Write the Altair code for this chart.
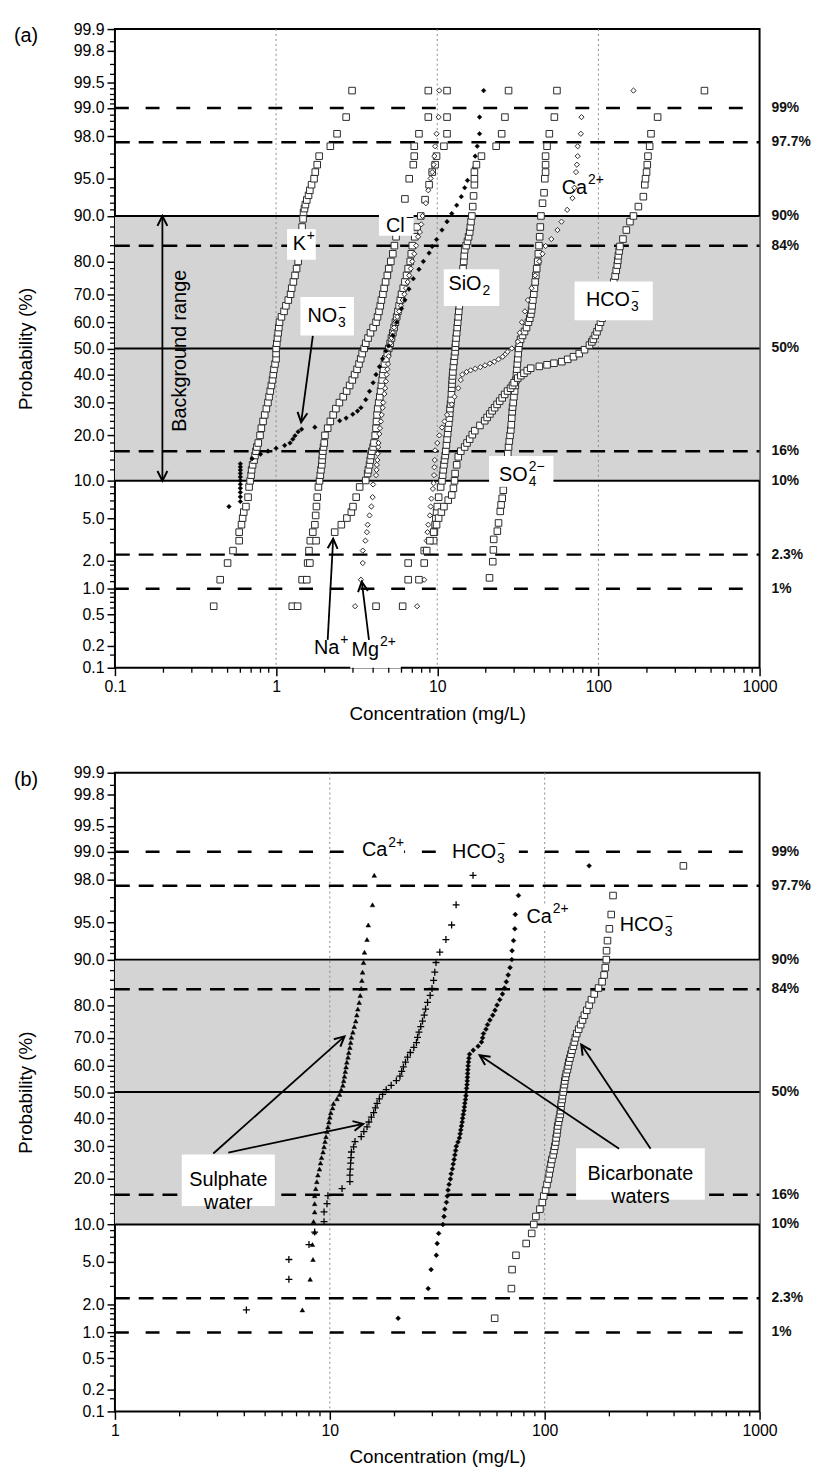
import math
import pandas as pd
import altair as alt
from statistics import NormalDist

# ------------------------------------------------------------------
# Panel (a): cumulative probability (%) and concentration (mg/L)
# ------------------------------------------------------------------
K_P = [0.63, 1.26, 1.89, 2.52, 3.14, 3.77, 4.40, 5.03, 5.66, 6.29, 7.5, 9.0, 10.0, 11.0, 12, 13, 14, 15, 16, 17,
       18, 20, 22, 24, 26, 28, 30, 32, 34, 36, 38, 40, 42, 44, 46, 48, 50, 52, 54, 56,
       58, 60, 62, 64, 66, 68, 70, 72, 74, 76, 78, 80, 82, 84, 86, 88, 89.5, 90.6, 91.2, 91.8,
       92.45, 93.08, 93.7, 94.34, 94.97, 95.6, 96.23, 96.86, 97.48, 98.11, 98.74, 99.37]
K_C = [0.41, 0.45, 0.50, 0.54, 0.59, 0.59, 0.61, 0.62, 0.63, 0.65, 0.67, 0.68, 0.69, 0.70, 0.705, 0.715, 0.73, 0.74, 0.75, 0.76,
       0.775, 0.795, 0.81, 0.83, 0.85, 0.87, 0.89, 0.905, 0.92, 0.935, 0.95, 0.96, 0.97, 0.985, 1.0, 1.0, 1.0, 1.01, 1.02, 1.03,
       1.04, 1.05, 1.08, 1.12, 1.15, 1.19, 1.23, 1.25, 1.28, 1.31, 1.34, 1.37, 1.39, 1.41, 1.43, 1.45, 1.47, 1.48, 1.50, 1.52,
       1.55, 1.59, 1.62, 1.66, 1.72, 1.75, 1.80, 1.85, 2.17, 2.39, 2.72, 2.96]

NO3_P = [6.29, 6.92, 7.55, 8.18, 8.81, 9.43, 10.06, 10.69, 11.32, 11.95, 12.58, 13.21, 14.3, 15.3, 16.0, 16.7, 17.4, 18.0, 19.0, 19.9,
         21.0, 21.7, 22.3, 24.2, 25.0, 26.2, 27.2, 28.3, 31.0, 33.9, 37.0, 40.0, 43.0, 46.0, 49.0, 51.0, 55.0, 60.0, 65.0, 68.0,
         71.7, 75.0, 77.8, 80.0, 82.2, 83.8, 85.4, 87.4, 89.0, 90.4, 91.7, 92.9, 94.0, 94.8, 96.0, 96.86, 97.48, 98.11, 98.74, 99.37]
NO3_C = [0.51, 0.60, 0.60, 0.60, 0.60, 0.60, 0.60, 0.60, 0.60, 0.60, 0.60, 0.60, 0.71, 0.80, 0.89, 1.0, 1.13, 1.22, 1.27, 1.31,
         1.37, 1.44, 1.74, 2.48, 2.72, 2.99, 3.2, 3.36, 3.6, 3.8, 4.0, 4.17, 4.38, 4.58, 4.8, 5.0, 5.3, 5.6, 6.0, 6.3,
         6.67, 7.1, 7.7, 8.2, 8.9, 9.3, 9.9, 10.7, 11.5, 12.3, 13.2, 14.1, 14.8, 15.4, 17.0, 17.2, 17.7, 18.3, 18.3, 19.4]

CL_P = [0.63, 1.26, 1.89, 2.52, 3.14, 3.77, 4.40, 5.3, 6.3, 7.5, 9.0, 10, 11, 12, 13, 14, 15, 16, 17, 18,
        20, 22, 24, 26, 28, 30, 32, 34, 36, 38, 40, 42, 44, 46, 48, 50, 52, 54, 56, 58,
        60, 62, 64, 66, 68, 70, 72, 74, 76, 78, 80, 82, 84, 86, 88, 90, 92.6, 94.97, 96.23, 96.86,
        97.48, 98.11, 98.74, 99.37]
CL_C = [1.26, 1.45, 1.57, 1.60, 1.63, 1.69, 1.74, 1.76, 1.78, 1.80, 1.83, 1.86, 1.88, 1.90, 1.92, 1.93, 1.94, 1.95, 1.97, 1.99,
        2.01, 2.09, 2.17, 2.26, 2.35, 2.47, 2.61, 2.74, 2.86, 2.97, 3.07, 3.18, 3.27, 3.35, 3.42, 3.52, 3.6, 3.72, 3.85, 4.0,
        4.17, 4.26, 4.35, 4.43, 4.5, 4.6, 4.68, 4.78, 4.9, 5.0, 5.15, 5.3, 5.42, 5.55, 5.8, 5.95, 6.3, 6.7, 7.1, 7.2,
        7.2, 7.7, 8.8, 8.8]

NA_P = [0.63, 1.26, 1.89, 3.14, 3.77, 4.40, 5.03, 5.66, 6.29, 7.5, 9.0, 10.06, 11.3, 12, 13, 14, 15, 16, 17, 18,
        20, 22, 24, 26, 28, 30, 32, 34, 36, 38, 40, 42, 44, 46, 48, 50, 52, 54, 56, 58,
        60, 62, 64, 66, 68, 70, 72, 74, 76, 78, 80, 82, 84, 86, 88, 90, 92.5, 94.34, 95.6, 96.23,
        96.86, 97.48, 98.11, 98.74, 99.37]
NA_C = [1.36, 1.55, 1.62, 1.77, 2.31, 2.54, 2.75, 2.93, 3.0, 3.14, 3.3, 3.6, 3.7, 3.74, 3.8, 3.84, 3.88, 3.93, 4.0, 4.05,
        4.12, 4.17, 4.2, 4.23, 4.27, 4.33, 4.4, 4.45, 4.5, 4.55, 4.6, 4.64, 4.7, 4.8, 4.9, 5.0, 5.1, 5.2, 5.3, 5.4,
        5.5, 5.6, 5.7, 5.8, 5.9, 6.0, 6.15, 6.3, 6.45, 6.6, 6.8, 6.9, 7.0, 7.25, 7.5, 7.9, 8.4, 8.9, 9.3, 9.7,
        9.9, 11.0, 11.5, 11.5, 11.5]

MG_P = [0.63, 1.26, 1.89, 2.52, 3.14, 3.77, 4.40, 5.3, 6.3, 7.5, 9.4, 11, 12, 13, 14, 15.4, 17, 18, 20.4, 22,
        24, 26, 28.3, 30, 33, 35, 37.5, 40, 42, 44, 47, 50, 52, 54, 56, 58, 60, 62, 64, 66,
        68, 70, 72, 74, 76, 78, 80, 82, 84, 86, 87, 88.5, 90, 92, 93.7, 95, 95.6, 96.23, 96.86, 97.48,
        98.11, 98.74, 99.37]
MG_C = [3.09, 3.36, 3.45, 3.45, 3.58, 3.66, 3.70, 3.8, 3.9, 3.97, 4.0, 4.17, 4.2, 4.22, 4.25, 4.27, 4.3, 4.32, 4.37, 4.41,
        4.47, 4.52, 4.58, 4.62, 4.7, 4.75, 4.8, 4.85, 4.9, 4.95, 5.0, 5.05, 5.1, 5.2, 5.3, 5.4, 5.5, 5.65, 5.8, 5.95,
        6.1, 6.25, 6.4, 6.55, 6.7, 6.85, 7.0, 7.2, 7.4, 7.6, 7.8, 7.95, 8.1, 8.5, 8.8, 9.1, 9.3, 9.5, 9.6, 9.7,
        9.9, 10.2, 10.3]

SI_P = [0.63, 1.26, 1.89, 2.52, 3.14, 3.77, 4.40, 5.03, 5.66, 6.29, 7.5, 9.0, 10, 11, 12, 13, 14, 15, 16, 17.5,
        19, 20.5, 22, 23.5, 25, 26.5, 28, 29.5, 31, 33, 35, 36.5, 38, 39.5, 41, 43, 45, 47, 48.7, 50.5,
        52, 54, 56, 58, 60, 62, 64, 66, 68, 70, 72, 74, 76, 78, 80, 81.5, 83, 84, 85, 86,
        87, 88, 89, 90, 91.5, 93, 94.34, 94.97, 95.6, 96.23, 96.86, 97.48, 98.11, 98.74, 99.37]
SI_C = [4.17, 6.6, 6.6, 8.3, 9.5, 9.6, 9.7, 9.8, 9.9, 10.0, 10.2, 10.5, 10.7, 10.8, 10.9, 11.0, 11.1, 11.2, 11.3, 11.4,
        11.5, 11.6, 11.7, 11.8, 11.9, 11.95, 12.0, 12.1, 12.2, 12.25, 12.3, 12.35, 12.4, 12.45, 12.5, 12.6, 12.7, 12.8, 12.9, 12.95,
        13.0, 13.1, 13.2, 13.3, 13.4, 13.5, 13.6, 13.7, 13.8, 13.95, 14.1, 14.2, 14.3, 14.45, 14.6, 14.7, 14.8, 15.1, 15.4, 15.65,
        15.9, 16.05, 16.2, 16.4, 16.6, 16.8, 17.0, 17.0, 17.0, 17.5, 18.8, 23.2, 25.1, 26.3, 27.7]

CA_P = [0.63, 1.26, 1.89, 2.52, 3.14, 3.77, 4.40, 5.3, 6.3, 7.3, 8.7, 9.6, 11.0, 12.5, 14.0, 16.2, 18.0, 20.0, 22.2, 24.0,
        26.0, 29.4, 32.0, 35.0, 38.0, 40.0, 41.0, 41.6, 42.2, 42.8, 43.5, 44.2, 44.9, 45.8, 46.8, 47.8, 48.7, 50.0, 52.6, 56.0,
        60.0, 64.0, 68.0, 72.0, 76.0, 80.0, 82.0, 83.9, 85.5, 87.4, 89.0, 91.0, 92.7, 94.0, 95.6, 96.23, 96.86, 97.48, 98.11, 98.74,
        99.37]
CA_C = [7.5, 8.3, 8.4, 8.4, 8.6, 8.7, 8.8, 9.0, 9.1, 9.2, 9.4, 9.5, 9.55, 9.6, 9.65, 9.7, 10.0, 10.3, 10.7, 11.1,
        11.5, 12.3, 12.8, 13.5, 14.0, 14.3, 15.2, 16.1, 17.2, 18.5, 19.8, 21.2, 22.6, 24.0, 25.5, 26.5, 27.3, 29.0, 31.6, 32.5,
        33.5, 35.0, 36.5, 38.5, 40.5, 43.0, 45.0, 47.0, 51.0, 55.7, 59.0, 64.0, 69.0, 71.0, 72.6, 73.5, 74.4, 74.4, 77.8, 78.5,
        165.0]

SO_P = [1.32, 1.95, 2.56, 3.23, 3.85, 4.56, 5.74, 6.5, 7.35, 8.5, 10, 12, 14, 15.4, 17, 18.5, 20, 21.5, 23, 25,
        27, 28.5, 30, 32, 34, 36, 38, 40, 42, 44, 46, 48, 50, 52, 53.5, 55, 56.5, 58, 60, 61.5,
        63, 64.5, 66, 68, 70, 72, 74, 76, 78, 80, 82, 84, 86, 88, 90, 92, 93.4, 94.97, 95.6, 96.23,
        96.86, 97.48, 98.11, 98.74, 99.37]
SO_C = [21.1, 22.1, 22.3, 22.4, 23.6, 24.0, 24.6, 24.9, 25.3, 25.7, 26.2, 26.7, 27.1, 27.4, 27.7, 28.0, 28.3, 28.6, 28.8, 29.0,
        29.2, 29.35, 29.6, 29.9, 30.2, 30.5, 30.8, 31.0, 31.2, 31.4, 31.6, 31.8, 32.0, 32.3, 32.9, 33.8, 34.8, 35.8, 36.8, 37.5,
        38.1, 38.5, 38.8, 39.2, 39.7, 40.1, 40.5, 40.9, 41.4, 42.0, 42.4, 42.8, 43.2, 43.6, 44.0, 45.0, 46.0, 46.5, 47.0, 47.0,
        47.0, 48.0, 49.6, 53.3, 55.3]

HC_P = [0.63, 1.26, 1.89, 2.52, 3.14, 3.77, 4.40, 5.03, 5.66, 6.29, 7.1, 7.8, 8.8, 10, 11.3, 13, 14.7, 16, 17, 18,
        19, 20.2, 21.3, 22.8, 24.2, 25.2, 26.3, 27.3, 28.3, 29.4, 30.5, 31.6, 32.8, 34, 35, 36, 37, 38.7, 39.6, 40.5,
        41.5, 42.4, 43.1, 43.7, 44.3, 44.9, 45.8, 46.8, 48, 49.5, 51.3, 52.5, 53.5, 55, 56.4, 58, 60, 61.5, 63, 64.5,
        66, 67.5, 69, 70.5, 72, 74, 75.8, 77.5, 79, 80.3, 81.5, 82.7, 83.8, 85.5, 87.4, 89, 90, 91.5, 92.9, 94.34,
        94.97, 95.6, 96.23, 96.86, 97.48, 98.11, 98.74, 99.37]
HC_C = [6.1, 7.7, 8.3, 8.6, 9.0, 9.5, 9.9, 10.2, 10.6, 11.0, 11.7, 12.3, 12.6, 12.8, 12.9, 13.2, 13.5, 14.0, 14.8, 15.3,
        15.9, 16.5, 17.1, 18.4, 19.7, 20.4, 21.2, 21.9, 22.7, 23.5, 24.4, 25.3, 26.2, 27.3, 28.5, 29.3, 30.0, 31.6, 33.0, 34.5,
        36.2, 38.0, 43.0, 48.0, 53.0, 59.3, 64.5, 70.0, 76.0, 82.0, 88, 91, 93, 95.5, 98, 100.5, 103, 105.5, 108, 110.5,
        113, 115.5, 118, 120, 122, 124.5, 127, 129, 131, 132, 133, 134.5, 136, 142, 149, 157, 165, 177, 190, 194,
        196, 199, 201, 203, 208, 212, 233, 455]

# ------------------------------------------------------------------
# Panel (b)
# ------------------------------------------------------------------
S_P = [1.75, 3.5, 5.26, 7.0, 8.77, 10.5, 12.3, 14.0, 15.8, 17.5, 19.3, 21.1, 22.8, 24.6, 26.3, 28.1, 29.8, 31.6, 33.3, 35.1,
       36.8, 38.6, 40.4, 42.1, 43.9, 45.6, 47.4, 49.1, 50.9, 52.6, 54.4, 56.1, 57.9, 59.6, 61.4, 63.2, 64.9, 66.7, 68.4, 70.2,
       71.9, 73.7, 75.4, 77.2, 78.9, 80.7, 82.5, 84.2, 86.0, 87.7, 89.5, 91.2, 93.0, 94.7, 96.5, 98.2]
ST_C = [7.45, 8.1, 8.35, 8.3, 8.5, 8.4, 8.5, 8.5, 8.5, 8.6, 8.7, 8.8, 8.95, 9.05, 9.15, 9.3, 9.4, 9.5, 9.6, 9.7,
        9.8, 9.9, 10.0, 10.1, 10.3, 10.4, 10.8, 11.1, 11.3, 11.5, 11.6, 11.7, 11.8, 11.9, 12.0, 12.15, 12.25, 12.4, 12.5, 12.6,
        12.8, 13.0, 13.2, 13.35, 13.5, 13.7, 13.85, 14.0, 14.1, 14.2, 14.35, 14.5, 14.9, 15.1, 15.8, 16.1]
SP_C = [4.09, 6.45, 6.45, 8.0, 8.5, 9.4, 9.4, 9.7, 9.8, 11.4, 12.4, 12.4, 12.45, 12.5, 12.55, 12.6, 12.9, 13.1, 14.0, 14.4,
        14.9, 15.2, 15.6, 16.0, 16.3, 16.6, 17.0, 17.6, 18.3, 19.3, 20.4, 21.2, 21.6, 22.0, 22.5, 23.0, 23.7, 24.6, 25.3, 25.6,
        26.0, 26.5, 27.0, 27.5, 27.9, 28.5, 29.3, 29.9, 30.4, 30.8, 31.2, 32.5, 34.7, 36.9, 38.7, 46.4]

B_P = [1.43, 2.86, 4.29, 5.71, 7.14, 8.57, 10.0, 11.43, 12.86, 14.29, 15.71, 17.14, 18.57, 20.0, 21.43, 22.86, 24.29, 25.71, 27.14, 28.57,
       30.0, 31.43, 32.86, 34.29, 35.71, 37.14, 38.57, 40.0, 41.43, 42.86, 44.29, 45.71, 47.14, 48.57, 50.0, 51.43, 52.86, 54.29, 55.71, 57.14,
       58.57, 60.0, 61.43, 62.86, 64.29, 65.71, 67.14, 68.57, 70.0, 71.43, 72.86, 74.29, 75.71, 77.14, 78.57, 80.0, 81.43, 82.86, 84.29, 85.71,
       87.14, 88.57, 90.0, 91.43, 92.86, 94.29, 95.71, 97.14, 98.57]
BD_C = [20.8, 28.7, 29.6, 31.3, 31.6, 32.1, 33.6, 34.0, 34.3, 34.9, 35.2, 35.5, 35.9, 36.4, 36.7, 37.2, 37.5, 37.9, 38.2, 38.5,
        38.8, 39.5, 40.1, 40.4, 40.7, 41.0, 41.3, 41.5, 41.8, 42.1, 42.3, 42.5, 42.8, 43.0, 43.1, 43.3, 43.5, 43.6, 43.7, 43.8,
        43.9, 44.0, 44.2, 44.4, 44.7, 46.5, 49.0, 50.8, 51.4, 51.9, 53.3, 54.2, 55.6, 57.3, 58.7, 60.0, 61.8, 63.6, 65.0, 66.3,
        67.6, 69.0, 70.3, 70.5, 71.6, 72.6, 73.0, 75.5, 161.0]
BS_C = [58.5, 70.0, 70.5, 73.5, 82.0, 87.0, 89.0, 91.0, 95.0, 97.5, 99.0, 101.0, 102.5, 104.0, 105.0, 106.0, 107.0, 108.0, 109.5, 110.5,
        111.5, 112.5, 113.0, 114.0, 114.5, 115.0, 116.0, 117.0, 118.0, 118.5, 119.0, 119.5, 120.5, 121.0, 122.0, 122.5, 123.5, 124.0, 125.0, 126.0,
        127.5, 128.5, 129.5, 131.0, 132.5, 134.0, 136.0, 137.5, 139.0, 141.0, 144.0, 147.0, 150.0, 153.0, 157.0, 161.0, 165.0, 170.0, 178.0, 185.0,
        189.0, 191.5, 193.5, 194.0, 196.0, 200.0, 204.0, 208.0, 442.0]

# ------------------------------------------------------------------
# Axis ticks, reference lines, labels
# ------------------------------------------------------------------
Y_TICKS = [0.1, 0.2, 0.5, 1, 2, 5, 10, 20, 30, 40, 50, 60, 70, 80, 90, 95, 98, 99, 99.5, 99.8, 99.9]
Y_MINOR = [0.15, 0.3, 0.4, 0.6, 0.7, 0.8, 0.9, 1.2, 1.4, 1.6, 1.8, 3, 4, 6, 7, 8, 9, 12, 14, 16, 18, 22, 24, 26, 28,
           32, 34, 36, 38, 42, 44, 46, 48, 52, 54, 56, 58, 62, 64, 66, 68, 72, 74, 76, 78, 82, 84, 86, 88,
           91, 92, 93, 94, 96, 97, 98.3, 98.6, 98.8, 99.1, 99.2, 99.3, 99.4, 99.6, 99.7, 99.85]
SOLID_P = [10, 50, 90]
DASH_NEAR_P = [2.3, 16, 84, 97.7]
DASH_FAR_P = [1, 99]
RIGHT_P = [99, 97.7, 90, 84, 50, 16, 10, 2.3, 1]
RIGHT_L = ["99%", "97.7%", "90%", "84%", "50%", "16%", "10%", "2.3%", "1%"]

ND = NormalDist()


def zv(p):
    return ND.inv_cdf(p / 100.0)


W, H = 651, 645
ZM = zv(99.9)
FONT = "Liberation Sans"
ARROW = "M-0.5,1L0,0L0.5,1"
PLUS = "M-1,0L1,0M0,-1L0,1"

SQ = dict(shape="square", size=44, filled=True, fill="white", stroke="#2a2a2a", strokeWidth=1)
DIA_OPEN = dict(shape="diamond", size=28, filled=True, fill="white", stroke="#2a2a2a", strokeWidth=1)
DIA_FILL = dict(shape="diamond", size=24, filled=True, fill="black", stroke="black", strokeWidth=0.5)


def build_panel(tag, xdom, xmajor, gridx, series, labels, blocks, arrows, extra=None):
    lo, hi = math.log10(xdom[0]), math.log10(xdom[1])
    xs = alt.Scale(type="log", domain=xdom, nice=False)
    ys = alt.Scale(domain=[-ZM, ZM], nice=False, zero=False)
    xaxis = alt.Axis(values=xmajor, labelExpr="format(datum.value, '~g')", title="Concentration (mg/L)",
                     grid=False, domain=False, tickSize=8, tickWidth=1.5, tickColor="black",
                     labelFontSize=16, labelColor="black", labelPadding=3, labelFlush=False, labelOverlap=False,
                     labelFont=FONT, titleFont=FONT, titleFontSize=19, titleFontWeight="normal",
                     titleColor="black", titlePadding=10)
    yaxis = alt.Axis(values=[zv(p) for p in Y_TICKS],
                     labelExpr="format(cumulativeNormal(datum.value) * 100, '.1f')",
                     title="Probability (%)", grid=False, domain=False, tickSize=8, tickWidth=1.5,
                     tickColor="black", labelFontSize=16, labelColor="black", labelPadding=3,
                     labelFlush=False, labelOverlap=False, labelFont=FONT, titleFont=FONT,
                     titleFontSize=19, titleFontWeight="normal", titleColor="black", titlePadding=38)

    def X(f):
        return alt.X(f, type="quantitative", scale=xs, axis=xaxis)

    def Y(f):
        return alt.Y(f, type="quantitative", scale=ys, axis=yaxis)

    def px(c, p):
        return ((math.log10(c) - lo) / (hi - lo) * W, (ZM - zv(p)) / (2 * ZM) * H)

    layers = []
    band = pd.DataFrame({"z1": [zv(10)], "z2": [zv(90)]})
    layers.append(alt.Chart(band).mark_rect(color="#d4d4d4").encode(
        x=alt.value(0), x2=alt.value(W), y=Y("z1"), y2="z2"))
    layers.append(alt.Chart(pd.DataFrame({"c": gridx})).mark_rule(
        color="#8a8a8a", strokeWidth=1, strokeDash=[2, 3]).encode(
        x=X("c"), y=alt.value(0), y2=alt.value(H)))
    layers.append(alt.Chart(pd.DataFrame({"z": [zv(p) for p in SOLID_P]})).mark_rule(
        color="black", strokeWidth=2).encode(y=Y("z"), x=alt.value(0), x2=alt.value(W)))
    layers.append(alt.Chart(pd.DataFrame({"z": [zv(p) for p in DASH_NEAR_P]})).mark_rule(
        color="black", strokeWidth=2.5, strokeDash=[15, 9]).encode(y=Y("z"), x=alt.value(0), x2=alt.value(W)))
    layers.append(alt.Chart(pd.DataFrame({"z": [zv(p) for p in DASH_FAR_P]})).mark_rule(
        color="black", strokeWidth=2.5, strokeDash=[14, 17]).encode(y=Y("z"), x=alt.value(0), x2=alt.value(W)))
    for P, C, style in series:
        df = pd.DataFrame({"p": P, "c": C})
        df["z"] = [zv(p) for p in df["p"]]
        layers.append(alt.Chart(df).mark_point(opacity=1, **style).encode(x=X("c"), y=Y("z")))
    for c, p, base, sub, sup, box in labels:
        d = alt.Chart(pd.DataFrame({"c": [c], "z": [zv(p)]}))
        if box:
            l, r, t, b = box
            layers.append(d.mark_rect(fill="white", xOffset=-l, x2Offset=r, yOffset=-t, y2Offset=b).encode(
                x=X("c"), x2="c", y=Y("z"), y2="z"))
        layers.append(d.mark_text(text=base, align="right", baseline="middle", fontSize=20,
                                  color="black", font=FONT).encode(x=X("c"), y=Y("z")))
        if sub:
            layers.append(d.mark_text(text=sub, align="left", baseline="middle", fontSize=14, dx=1, dy=7,
                                      color="black", font=FONT).encode(x=X("c"), y=Y("z")))
        if sup:
            layers.append(d.mark_text(text=sup, align="left", baseline="middle", fontSize=14, dx=1, dy=-8,
                                      color="black", font=FONT).encode(x=X("c"), y=Y("z")))
    for c, p, lines, hw, hh in blocks:
        d = alt.Chart(pd.DataFrame({"c": [c], "z": [zv(p)]}))
        layers.append(d.mark_rect(fill="white", xOffset=-hw, x2Offset=hw, yOffset=-hh, y2Offset=hh).encode(
            x=X("c"), x2="c", y=Y("z"), y2="z"))
        layers.append(d.mark_text(text=lines, align="center", baseline="middle", fontSize=20, lineHeight=23,
                                  color="black", font=FONT).encode(x=X("c"), y=Y("z")))
    if extra:
        layers.extend(extra(X, Y))
    if arrows:
        rows = []
        for c1, p1, c2, p2 in arrows:
            x1, y1 = px(c1, p1)
            x2, y2 = px(c2, p2)
            ang = math.degrees(math.atan2(x2 - x1, -(y2 - y1))) % 360
            rows.append({"c1": c1, "z1": zv(p1), "c2": c2, "z2": zv(p2), "a": ang})
        adf = pd.DataFrame(rows)
        layers.append(alt.Chart(adf).mark_rule(color="black", strokeWidth=1.8).encode(
            x=X("c1"), x2="c2", y=Y("z1"), y2="z2"))
        layers.append(alt.Chart(adf).mark_point(shape=ARROW, size=400, filled=False, stroke="black",
                                                strokeWidth=2, opacity=1).encode(
            x=X("c2"), y=Y("z2"), angle=alt.Angle("a:Q", scale=None)))
    layers.append(alt.Chart(pd.DataFrame({"z": [zv(p) for p in RIGHT_P], "lab": RIGHT_L})).mark_text(
        align="left", baseline="middle", fontSize=14, fontWeight="bold", color="#111", font=FONT).encode(
        x=alt.value(W + 12), y=Y("z"), text="lab:N"))
    layers.append(alt.Chart(pd.DataFrame({"z": [zv(p) for p in Y_MINOR]})).mark_rule(
        color="black", strokeWidth=1.3).encode(y=Y("z"), x=alt.value(-5), x2=alt.value(0)))
    xminor = []
    d = xdom[0]
    while d < xdom[1] * 0.999:
        xminor.extend([d * k for k in range(2, 10)])
        d *= 10
    layers.append(alt.Chart(pd.DataFrame({"c": xminor})).mark_rule(
        color="black", strokeWidth=1.3).encode(x=X("c"), y=alt.value(H), y2=alt.value(H + 5)))
    layers.append(alt.Chart(pd.DataFrame({"t": [tag]})).mark_text(
        align="left", baseline="middle", fontSize=20, color="black", font=FONT).encode(
        x=alt.value(-102), y=alt.value(7), text="t:N"))
    return alt.layer(*layers).properties(width=W, height=H)


def bg_extra(X, Y):
    d = alt.Chart(pd.DataFrame({"c": [0.253], "z": [zv(49.1)]}))
    return [d.mark_text(text="Background range", angle=270, align="center", baseline="middle",
                        fontSize=20, color="black", font=FONT).encode(x=X("c"), y=Y("z"))]


series_a = [
    (K_P, K_C, SQ),
    (CL_P, CL_C, SQ),
    (NA_P, NA_C, SQ),
    (MG_P, MG_C, DIA_OPEN),
    (NO3_P, NO3_C, dict(shape="diamond", size=22, filled=True, fill="black", stroke="black", strokeWidth=0.5)),
    (SI_P, SI_C, SQ),
    (SO_P, SO_C, SQ),
    (CA_P, CA_C, DIA_OPEN),
    (HC_P, HC_C, SQ),
]
labels_a = [
    (1.53, 84.4, "K", "", "+", (19, 10, 15, 16)),
    (6.28, 88.2, "Cl", "", "\u2212", (26, 9, 15, 10)),
    (2.39, 62.4, "NO", "3", "\u2212", (37, 17, 19, 20)),
    (18.8, 73.3, "SiO", "2", "", (38, 18, 15, 22)),
    (85.1, 94.0, "Ca", "", "2+", None),
    (157.0, 67.9, "HCO", "3", "\u2212", (56, 23, 19, 20)),
    (36.4, 11.05, "SO", "4", "2\u2212", (39, 26, 19, 12)),
    (2.47, 0.187, "Na", "", "+", (33, 10, 14, 14)),
    (4.35, 0.178, "Mg", "", "2+", (29, 22, 14, 19)),
]
arrows_a = [
    (1.69, 54.8, 1.43, 23.7),
    (2.09, 0.24, 2.26, 3.28),
    (3.77, 0.24, 3.40, 1.2),
    (0.197, 50.0, 0.197, 90.0),
    (0.197, 50.0, 0.197, 10.0),
]

series_b = [
    (S_P, ST_C, dict(shape="triangle-up", size=22, filled=True, fill="black", stroke="black", strokeWidth=0.5)),
    (S_P, SP_C, dict(shape=PLUS, size=49, filled=False, stroke="black", strokeWidth=1.3)),
    (B_P, BD_C, DIA_FILL),
    (B_P, BS_C, SQ),
]
labels_b = [
    (18.5, 99.03, "Ca", "", "2+", (31, 17, 13, 12)),
    (59.4, 99.0, "HCO", "3", "\u2212", (52, 23, 13, 14)),
    (108.0, 95.5, "Ca", "", "2+", (30, 20, 13, 13)),
    (358.0, 94.7, "HCO", "3", "\u2212", (45, 20, 13, 15)),
]
blocks_b = [
    (3.37, 19.7, ["Sulphate", "water"], 47, 26),
    (279.0, 21.4, ["Bicarbonate", "waters"], 65, 26),
]
arrows_b = [
    (2.87, 27.6, 11.7, 70.5),
    (3.37, 27.9, 14.3, 37.9),
    (222.0, 29.2, 49.8, 63.9),
    (311.0, 29.2, 148.0, 67.7),
]

panel_a = build_panel("(a)", [0.1, 1000], [0.1, 1, 10, 100, 1000], [1, 10, 100],
                      series_a, labels_a, [], arrows_a, extra=bg_extra)
panel_b = build_panel("(b)", [1, 1000], [1, 10, 100, 1000], [10, 100],
                      series_b, labels_b, blocks_b, arrows_b)

chart = alt.vconcat(panel_a, panel_b, spacing=40).configure(font=FONT).configure_view(
    stroke="black", strokeWidth=2)

chart.save("out.html", embed_options={"renderer": "svg", "actions": False})
